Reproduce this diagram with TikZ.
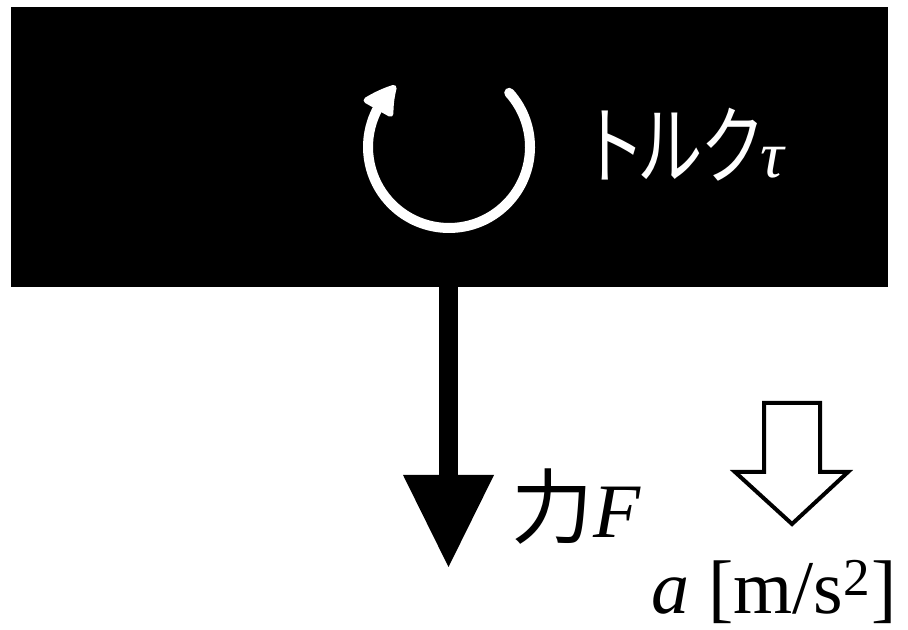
\documentclass[tikz,border=0pt]{standalone}
\usepackage{fontspec}
\usepackage{graphicx}
\setmainfont{Liberation Serif}
\newfontfamily\jpfont[RawFeature=+palt]{Noto Sans CJK JP}
\usepackage{tikz}
\usetikzlibrary{arrows.meta,bending,positioning}

\begin{document}
\begin{tikzpicture}[x=0.5pt, y=0.5pt, >=Stealth,
    font=\fontsize{41pt}{41pt}\selectfont,
    body/.style={fill=black, inner sep=0pt, minimum width=438.5pt, minimum height=140pt},
    txt/.style={anchor=base west, inner sep=0pt},
    force/.style={line width=9.5pt, -{Triangle[length=46pt,width=45.5pt,line width=0pt]}},
    torque/.style={white, line width=5pt, line cap=round, -{Triangle[length=17pt,width=18pt,line width=3pt,round,bend]}},
    accel/.style={line width=2pt, miter limit=10}]
    \useasboundingbox (0,0) rectangle (908,630);
    \node[body] (body) at (449.5,483) {};
    \coordinate (axis) at (449,483);
    \draw[torque] ([shift={(42:40.5pt)}]axis) arc[start angle=42, end angle=-229, radius=40.5pt];
    \node[txt, white] (torquelabel) at (590,452) {\scalebox{0.76}[1]{\jpfont\fontsize{43pt}{43pt}\selectfont トルク}\fontsize{33pt}{33pt}\selectfont\textit{τ}};
    \coordinate (Ftip) at (448.5,63);
    \draw[force] (body.south -| Ftip) -- (Ftip);
    \node[txt] (forcelabel) at (511,92) {{\jpfont\fontsize{41pt}{41pt}\selectfont 力}{\fontsize{38.5pt}{38.5pt}\selectfont\textit{F}}};
    \draw[accel] (764,227) -- (820,227) -- (820,158) -- (848,158) -- (792,106) -- (735,158) -- (764,158) -- cycle;
    \node[txt] (accellabel) at (651,16) {\fontsize{38pt}{38pt}\selectfont\textit{a} [m/s\textsuperscript{2}]};
\end{tikzpicture}
\end{document}
